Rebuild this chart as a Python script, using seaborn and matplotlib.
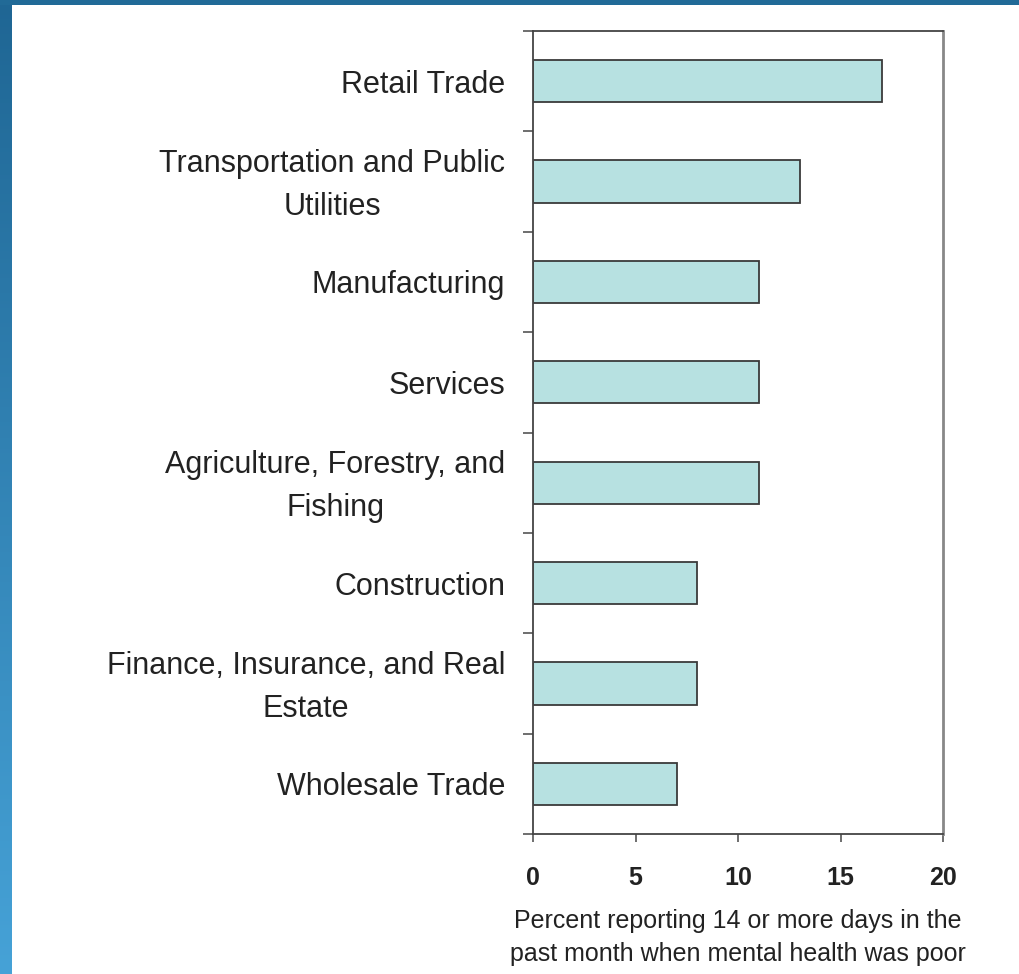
import numpy as np
import pandas as pd
import matplotlib
matplotlib.use("Agg")
import matplotlib.pyplot as plt
import matplotlib.transforms as mtransforms
import seaborn as sns
from matplotlib.patches import Rectangle

# data
industries = [
    "Retail Trade",
    "Transportation and Public\nUtilities",
    "Manufacturing",
    "Services",
    "Agriculture, Forestry, and\nFishing",
    "Construction",
    "Finance, Insurance, and Real\nEstate",
    "Wholesale Trade",
]
percent_poor = [17, 13, 11, 11, 11, 8, 8, 7]
x_ticks = [0, 5, 10, 15, 20]
x_label = "Percent reporting 14 or more days in the\npast month when mental health was poor"

df = pd.DataFrame({"industry": industries, "percent": percent_poor})

sns.set_theme(style="white")
plt.rcParams["font.family"] = ["Liberation Sans", "DejaVu Sans"]

fig = plt.figure(figsize=(10.2, 9.74), dpi=100)
fig.patch.set_facecolor("white")

# blue slide border: gradient strip on the left, band across the top
strip = fig.add_axes([0, 0, 12 / 1020, 1])
grad = np.linspace(0, 1, 256).reshape(-1, 1)
cmap = matplotlib.colors.LinearSegmentedColormap.from_list("edge", ["#1f6694", "#46a2d7"])
strip.imshow(grad, aspect="auto", cmap=cmap, extent=[0, 1, 0, 1], origin="upper")
strip.axis("off")
fig.patches.append(Rectangle((0, 1 - 5 / 974), 1, 5 / 974, transform=fig.transFigure,
                             facecolor="#216a97", edgecolor="none", zorder=5))

ax = fig.add_axes([533 / 1020, 1 - 834 / 974, 410 / 1020, 803 / 974])
sns.barplot(data=df, y="industry", x="percent", orient="h", color="#b7e1e1",
            edgecolor="#3a3a3a", linewidth=1.3, width=0.42, saturation=1, ax=ax)

ax.set_xlim(0, 20)
ax.set_ylim(len(industries) - 0.5, -0.5)
ax.set_xticks(x_ticks)
ax.set_xticklabels([str(t) for t in x_ticks], fontsize=18, fontweight="bold", color="#222222")
ax.set_yticks(range(len(industries)))
ax.set_yticklabels(industries, fontsize=22, color="#222222", linespacing=1.55,
                   multialignment="center")
ax.set_yticks(np.arange(-0.5, len(industries), 1), minor=True)
ax.tick_params(axis="y", which="major", length=0, pad=20)
ax.tick_params(axis="y", which="minor", length=7, width=1.2, color="#555555", direction="out", left=True)
ax.tick_params(axis="x", which="major", length=6, width=1.2, color="#555555", direction="out",
               bottom=True, pad=17)
ax.set_xlabel(x_label, fontsize=18, color="#222222", labelpad=14, linespacing=1.45)
ax.set_ylabel("")

# two-line labels sit a little above the bar centre in the original
shift = mtransforms.ScaledTranslation(0, 6 / 100, fig.dpi_scale_trans)
for lbl in ax.get_yticklabels():
    if "\n" in lbl.get_text():
        lbl.set_transform(lbl.get_transform() + shift)

for side in ["left", "bottom", "top"]:
    ax.spines[side].set_color("#444444")
    ax.spines[side].set_linewidth(1.3)
ax.spines["right"].set_color("#888888")
ax.spines["right"].set_linewidth(2)

fig.savefig("out.png", dpi=100, facecolor="white")
